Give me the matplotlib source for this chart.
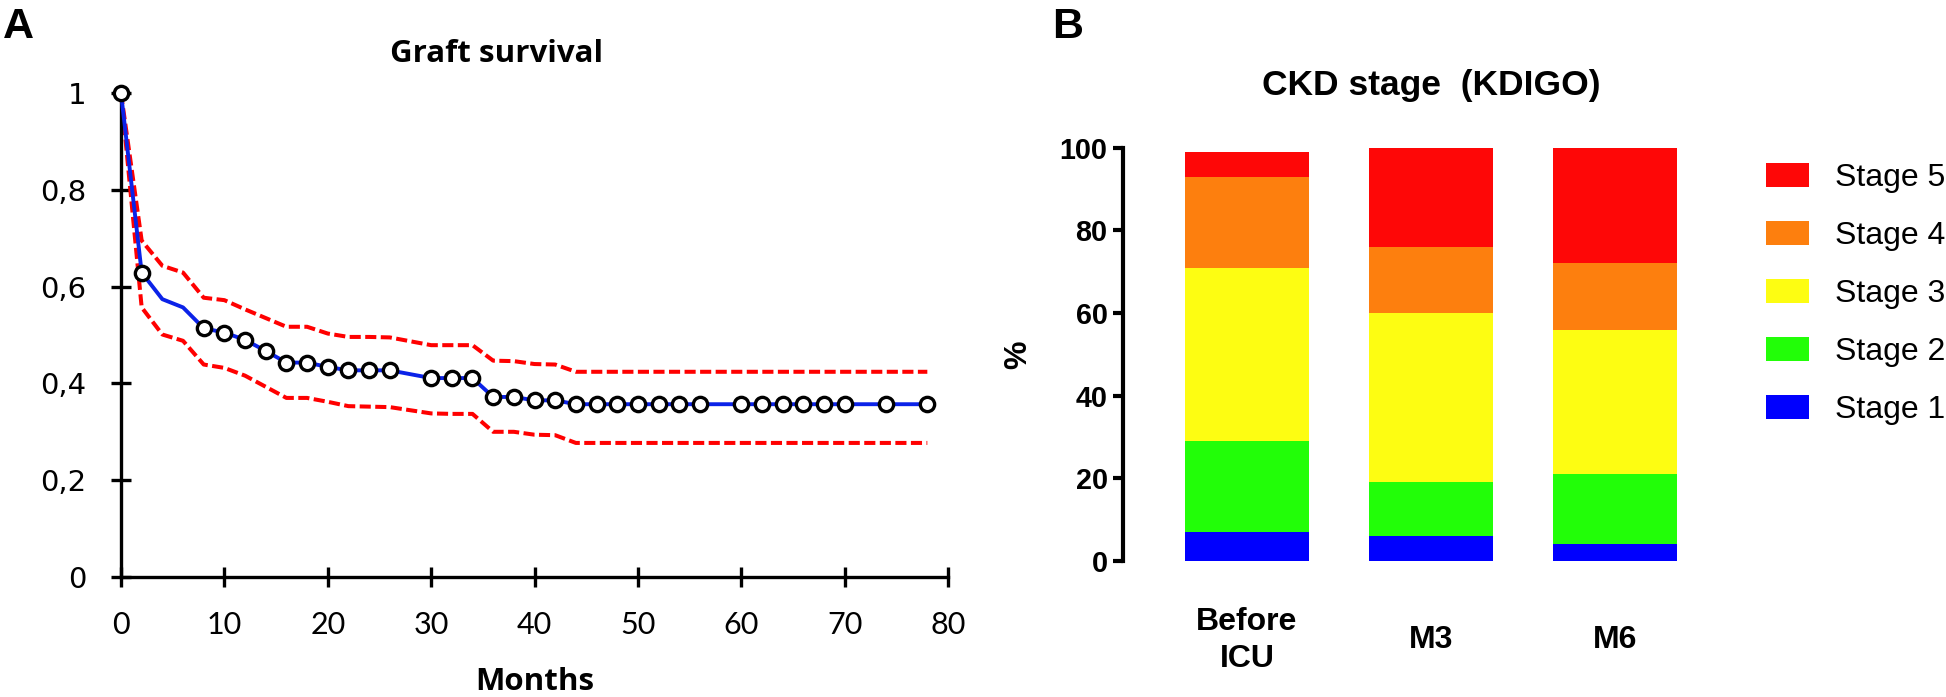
import matplotlib
matplotlib.use("Agg")
import matplotlib.pyplot as plt
import numpy as np

# ---------------- data ----------------
months = [0, 2, 4, 6, 8, 10, 12, 14, 16, 18, 20, 22, 24, 26, 30, 32, 34, 36, 38,
          40, 42, 44, 46, 48, 50, 52, 54, 56, 60, 62, 64, 66, 68, 70, 74, 78]
survival = [1.0, 0.629, 0.574, 0.557, 0.514, 0.505, 0.490, 0.467, 0.443, 0.443,
            0.434, 0.427, 0.427, 0.427, 0.411, 0.411, 0.411, 0.372, 0.372,
            0.365, 0.365, 0.357, 0.357, 0.357, 0.357, 0.357, 0.357, 0.357,
            0.357, 0.357, 0.357, 0.357, 0.357, 0.357, 0.357, 0.357]
ci_lower = [1.0, 0.557, 0.501, 0.488, 0.439, 0.432, 0.416, 0.393, 0.370, 0.370,
            0.362, 0.353, 0.352, 0.351, 0.338, 0.337, 0.337, 0.300, 0.300,
            0.294, 0.293, 0.277, 0.277, 0.277, 0.277, 0.277, 0.277, 0.277,
            0.277, 0.277, 0.277, 0.277, 0.277, 0.277, 0.277, 0.277]
ci_upper = [1.0, 0.695, 0.643, 0.629, 0.577, 0.572, 0.553, 0.535, 0.517, 0.517,
            0.503, 0.496, 0.496, 0.495, 0.479, 0.479, 0.479, 0.447, 0.446,
            0.440, 0.439, 0.424, 0.424, 0.424, 0.424, 0.424, 0.424, 0.424,
            0.424, 0.424, 0.424, 0.424, 0.424, 0.424, 0.424, 0.424]
# censoring marks: every point except months 4 and 6
marked = [m not in (4, 6) for m in months]

x_ticks = [0, 10, 20, 30, 40, 50, 60, 70, 80]
y_ticks = [0, 0.2, 0.4, 0.6, 0.8, 1.0]
y_tick_labels = ["0", "0,2", "0,4", "0,6", "0,8", "1"]

groups = ["Before\nICU", "M3", "M6"]
stage_names = ["Stage 1", "Stage 2", "Stage 3", "Stage 4", "Stage 5"]
stage1 = [7, 6, 4]
stage2 = [22, 13, 17]
stage3 = [42, 41, 35]
stage4 = [22, 16, 16]
stage5 = [6, 24, 28]
stage_colors = ["#0000fe", "#22fe08", "#fdfd12", "#fd7f0e", "#fe0707"]
bar_ticks = [0, 20, 40, 60, 80, 100]

plt.rcParams["lines.scale_dashes"] = False
ARIAL = "Liberation Sans"

W, H = 1946, 697
fig = plt.figure(figsize=(W / 100, H / 100), dpi=100)

# ---------------- panel A ----------------
axA = fig.add_axes([121 / W, 1 - 577 / H, (948 - 121) / W, (577 - 93) / H])
axA.plot(months, ci_upper, color="#ff0000", lw=2.9, dashes=(8, 3.2), clip_on=False, zorder=2)
axA.plot(months, ci_lower, color="#ff0000", lw=2.9, dashes=(8, 3.2), clip_on=False, zorder=2)
axA.plot(months, survival, color="#0b22e8", lw=2.8, clip_on=False, zorder=3)
mx = [m for m, k in zip(months, marked) if k]
my = [s for s, k in zip(survival, marked) if k]
axA.plot(mx, my, ls="none", marker="o", ms=10.3, mfc="white", mec="black", mew=2.4,
         clip_on=False, zorder=4)
axA.set_xlim(0, 80)
axA.set_ylim(0, 1)
for s in ["top", "right"]:
    axA.spines[s].set_visible(False)
for s in ["left", "bottom"]:
    axA.spines[s].set_linewidth(2.4)
axA.set_xticks(x_ticks)
axA.set_yticks(y_ticks)
axA.set_yticklabels(y_tick_labels, fontfamily="DejaVu Sans", fontsize=21)
axA.set_xticklabels([str(v) for v in x_ticks], fontfamily="Lato", fontsize=22)
axA.tick_params(axis="both", direction="inout", length=15, width=2.4)
axA.tick_params(axis="y", pad=17.5)
axA.tick_params(axis="x", pad=17)
axA.set_xlabel("Months", fontfamily="Open Sans", fontweight="bold", fontsize=22.5, labelpad=20)
fig.text(390 / W, 1 - 54 / H, "Graft survival", ha="left", va="center",
         fontfamily="Open Sans", fontweight="bold", fontsize=22.5)
fig.text(3 / W, 1 - 27 / H, "A", ha="left", va="center", fontfamily=ARIAL,
         fontweight="bold", fontsize=31)

# ---------------- panel B ----------------
axB = fig.add_axes([1123 / W, 1 - 561 / H, (1739 - 1123) / W, (561 - 147.7) / H])
x = np.arange(len(groups))
bottom = np.zeros(len(groups))
handles = []
for vals, col, name in zip([stage1, stage2, stage3, stage4, stage5], stage_colors, stage_names):
    b = axB.bar(x, vals, width=0.674, bottom=bottom, color=col, label=name, linewidth=0)
    handles.append(b)
    bottom += np.array(vals)
axB.set_xlim(-0.674, 2.674)
axB.set_ylim(0, 100)
for s in ["top", "right", "bottom"]:
    axB.spines[s].set_visible(False)
axB.spines["left"].set_linewidth(3)
axB.spines["left"].set_capstyle("projecting")
axB.set_yticks(bar_ticks)
axB.set_yticklabels([str(v) for v in bar_ticks], fontfamily=ARIAL, fontweight="bold", fontsize=20.7)
axB.tick_params(axis="y", direction="out", length=7.5, width=3, pad=3.6)
axB.set_xticks(x)
axB.set_xticklabels(groups, fontfamily=ARIAL, fontweight="bold", fontsize=23, linespacing=1.3,
                    va="center")
axB.tick_params(axis="x", length=0, pad=57)
axB.set_ylabel("%", fontfamily=ARIAL, fontweight="bold", fontsize=23, labelpad=19)
axB.set_title("CKD stage  (KDIGO)", fontfamily=ARIAL, fontweight="bold", fontsize=25.5, pad=38)
leg = axB.legend(handles[::-1], stage_names[::-1], loc="upper left",
                 bbox_to_anchor=(1766 / W, 1 - 163 / H), bbox_transform=fig.transFigure,
                 frameon=False, prop={"family": ARIAL, "size": 23},
                 handlelength=1.35, handleheight=0.78, handletextpad=0.8, labelspacing=0.87,
                 borderaxespad=0, borderpad=0)
fig.text(1052 / W, 1 - 27 / H, "B", ha="left", va="center", fontfamily=ARIAL,
         fontweight="bold", fontsize=31)

fig.savefig("out.png", dpi=100)
